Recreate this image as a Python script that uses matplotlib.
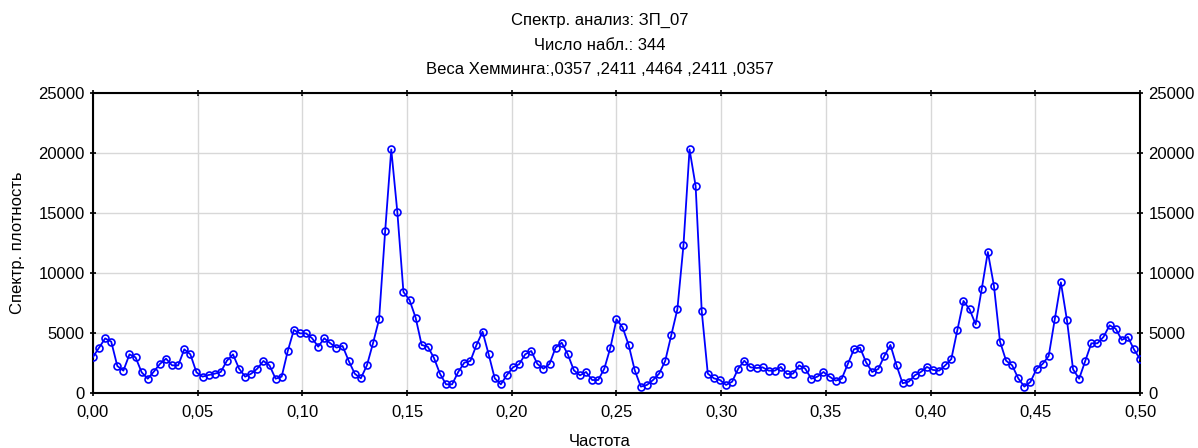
import numpy as np
import matplotlib
matplotlib.use("Agg")
import matplotlib.pyplot as plt

plt.rcParams['font.family'] = ['Liberation Sans', 'DejaVu Sans']

n_obs = 344
title_lines = ["Спектр. анализ: ЗП_07",
               "Число набл.: 344",
               "Веса Хемминга:,0357 ,2411 ,4464 ,2411 ,0357"]
x_label = "Частота"
y_label = "Спектр. плотность"

density = [
    3000, 3780, 4550, 4280, 2250, 1860, 3220, 2970, 1720, 1190,
    1780, 2420, 2860, 2300, 2300, 3640, 3220, 1720, 1360, 1500,
    1610, 1750, 2690, 3220, 2030, 1360, 1610, 2030, 2670, 2300,
    1190, 1360, 3500, 5250, 4970, 4970, 4560, 3860, 4560, 4140,
    3780, 3920, 2690, 1610, 1220, 2300, 4140, 6140, 13500, 20300,
    15080, 8420, 7750, 6280, 4000, 3860, 2940, 1610, 720, 720,
    1750, 2530, 2670, 4000, 5110, 3220, 1220, 720, 1500, 2140,
    2390, 3220, 3500, 2420, 2030, 2420, 3780, 4190, 3220, 1890,
    1470, 1750, 1080, 1080, 2030, 3780, 6140, 5470, 4000, 1890,
    530, 670, 1080, 1610, 2670, 4830, 6970, 12300, 20300, 17250,
    6830, 1610, 1220, 1080, 670, 940, 2030, 2690, 2140, 2080,
    2140, 1860, 1860, 2170, 1580, 1610, 2300, 2030, 1190, 1360,
    1750, 1360, 1030, 1190, 2420, 3640, 3780, 2560, 1750, 2000,
    3080, 4000, 2300, 810, 940, 1470, 1750, 2170, 1920, 1860,
    2300, 2830, 5250, 7670, 6970, 5720, 8670, 11750, 8940, 4280,
    2690, 2300, 1220, 530, 920, 2000, 2420, 3080, 6140, 9220,
    6060, 1970, 1190, 2670, 4140, 4140, 4670, 5640, 5360, 4420,
    4670, 3640, 2830,
]
freq = np.arange(len(density)) / n_obs

x_ticks = [0.0, 0.05, 0.10, 0.15, 0.20, 0.25, 0.30, 0.35, 0.40, 0.45, 0.50]
x_tick_labels = ["0,00", "0,05", "0,10", "0,15", "0,20", "0,25", "0,30",
                 "0,35", "0,40", "0,45", "0,50"]
y_ticks = [0, 5000, 10000, 15000, 20000, 25000]

fig = plt.figure(figsize=(11.98, 4.48), dpi=100)
ax = fig.add_axes([0.0776, 0.1228, 0.874, 0.6696])

ax.plot(freq, density, color='#0000FF', lw=1.3, marker='o', markersize=5,
        markerfacecolor='none', markeredgecolor='#0000FF', markeredgewidth=1.2,
        zorder=3)

ax.set_xlim(0, 0.5)
ax.set_ylim(0, 25000)
ax.set_xticks(x_ticks)
ax.set_xticklabels(x_tick_labels)
ax.set_yticks(y_ticks)
ax.set_yticklabels([str(v) for v in y_ticks])
ax.grid(True, color='#d8d8d8', lw=1.0, zorder=0)
ax.set_axisbelow(True)
ax.tick_params(direction='inout', length=5, width=1.2, labelsize=12,
               top=True, right=True, labelright=True)
ax.tick_params(axis='x', pad=6)
for s in ax.spines.values():
    s.set_linewidth(1.5)

for t, y in zip(title_lines, [20, 45, 70]):
    fig.text(600 / 1198, 1 - y / 448, t, ha='center', va='center', fontsize=12)

fig.text(600 / 1198, 1 - 441 / 448, x_label, ha='center', va='center', fontsize=12)
fig.text(18 / 1198, 1 - 243 / 448, y_label, ha='center', va='center',
         rotation=90, fontsize=12)

fig.savefig("out.png", dpi=100)
